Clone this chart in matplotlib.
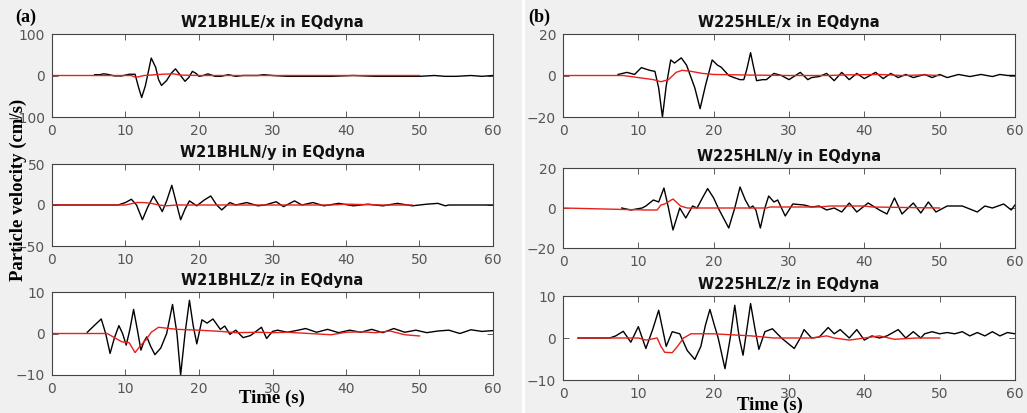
import matplotlib
matplotlib.use('Agg')
import matplotlib.pyplot as plt

# station W21B (column a), black = data, red = EQdyna
a_x_t = [5.8, 6.5, 7.0, 7.5, 8.5, 9.5, 10.5, 11.3, 11.8, 12.2, 12.7, 13.0, 13.5, 14.1, 14.5, 14.9, 15.6, 16.2,
         16.8, 17.4, 18.1, 18.6, 19.1, 19.6, 20.0, 20.6, 21.2, 21.7, 22.2, 23.0, 24.0, 25.0, 26.0, 28.0, 28.8,
         30.0, 32.0, 35.0, 38.0, 41.0, 44.0, 47.0, 50.0, 52.0, 53.5, 55.0, 57.0, 58.5, 60.0]
a_x_v = [2, 2, 4, 3, -1, -1, 3, 3, -30, -53, -25, 0, 42, 20, -10, -24, -12, 5,
         16, 2, -14, -5, 10, 5, -2, 0, 4, 1, -2, -2, 2, -2, 0, 0, 2,
         0, -2, -2, -2, 0, -2, -2, -2, 0, -2, -2, 0, -2, 0]
a_x_syn_t = [0, 10.8, 11.3, 11.8, 12.5, 15, 16.5, 17.5, 20, 30, 40, 50]
a_x_syn_v = [0, 0, -4, -3, 0, 3, 4, 1, 0, 0, 0, 0]

a_y_t = [0, 6, 9, 10, 10.8, 11.5, 12.3, 13.0, 13.8, 14.4, 15.0, 15.6, 16.3, 16.9, 17.5, 18.1, 18.7, 19.7, 20.7,
         21.6, 22.4, 23.1, 24.2, 25.0, 26.5, 28.0, 29.0, 30.5, 31.5, 33.0, 34.0, 35.5, 37.0, 39.0, 41.0, 43.0,
         45.0, 47.0, 49.0, 51.0, 52.5, 53.5, 54.0, 60]
a_y_v = [0, 0, 0, 3, 7, 0, -18, -3, 11, 2, -8, 5, 24, 3, -18, -5, 5, -1, 6,
         11, 0, -6, 3, 0, 3, -1, 0, 4, -2, 5, 0, 3, -1, 2, -1, 1,
         -1, 2, -1, 1, 2, -1, 0, 0]
a_y_syn_t = [0, 10, 11.5, 12.5, 13.5, 14.5, 15.5, 17, 20, 30, 38, 40, 45, 49]
a_y_syn_v = [0, 0, 3, 3, 2, 0, -1, 0, 0, 0, 0, 1, 0, 0]

a_z_t = [4.8, 5.8, 6.7, 7.3, 7.9, 8.5, 9.1, 9.6, 10.1, 10.6, 11.1, 11.6, 12.1, 12.5, 12.9, 13.4, 14.0, 14.8,
         15.6, 16.4, 17.0, 17.5, 18.1, 18.7, 19.2, 19.7, 20.4, 21.1, 21.9, 22.5, 22.9, 23.5, 24.2, 25.0, 26.0,
         27.0, 28.5, 29.2, 30.0, 30.7, 32, 33.5, 34.5, 36, 37.5, 39, 40.5, 42, 43.5, 45, 46.5, 48, 49.5,
         51, 52.5, 54, 55.5, 57, 58.5, 60]
a_z_v = [0.3, 2, 3.5, 0, -4.8, -1, 1.9, 0, -2.8, 1, 5.8, 1, -4, -2, -0.8, -3, -5.1, -3.5,
         0, 7, 0, -10, 0, 8, 2, -2.5, 3.3, 2.5, 3.5, 2, 1, 1.8, -0.2, 0.8, -1,
         -0.5, 1.5, -1.2, 0.5, 0.8, 0.3, 0.8, 1.2, 0.3, 1, 0.2, 0.8, 0.3, 1, 0.2, 1.2, 0.3, 0.8,
         0.2, 0.6, 0.8, 0, 0.9, 0.5, 0.7]
a_z_syn_t = [0, 7.5, 8.5, 9.5, 10.5, 11.3, 12.0, 12.8, 13.5, 14.5, 15.5, 17, 20, 23, 25, 28, 30, 32,
             35, 38, 40, 42, 44, 46, 48, 50]
a_z_syn_v = [0, 0, -1, -2, -2.2, -4.6, -3, -1.5, 0.3, 1.5, 1.3, 1, 0.8, 0.5, 0.2, 0.3, 0.2, 0.3,
             0, -0.3, 0.3, 0.4, 0.2, 0.6, -0.3, -0.6]

# station W225 (column b)
b_x_t = [7.3, 8.5, 9.5, 10.4, 11.5, 12.2, 12.7, 13.2, 13.7, 14.3, 14.8, 15.7, 16.4, 17.5, 18.2, 18.9, 19.8,
         20.5, 21.0, 22.0, 22.7, 23.5, 24.0, 24.4, 24.9, 25.3, 25.7, 26.5, 27.0, 28.0, 29.0, 30.0, 31.5,
         32.5, 33.0, 34.0, 35.0, 36.0, 37.0, 38.0, 39.0, 40.0, 41.5, 42.5, 43.5, 44.5, 45.5, 46.5, 48.0,
         49.0, 50.0, 51.0, 52.5, 54.0, 55.5, 57.0, 58.0, 59.0, 60.0]
b_x_v = [0.5, 1.5, 0.5, 3.8, 2.5, 2, -6, -20, -5, 7.5, 6, 8.5, 5, -6, -16, -5, 7.5,
         5, 4, 0, -1, -2, -2, 3, 11, 4, -2.5, -2, -2, 1, 0, -2, 1.5,
         -2, -1, -0.5, 1, -2.5, 1.5, -2, 1, -1.5, 1.5, -1.5, 1, -1, 0.5, -1, 0.5,
         -1, 0.5, -1, 0.5, -0.5, 0.5, -0.5, 0.5, 0, 0]
b_x_syn_t = [0, 8, 10, 12, 13, 14, 15, 15.8, 17, 18.5, 20, 25, 30, 35, 38, 42, 45, 48, 50]
b_x_syn_v = [0, 0, -1, -2, -3, -2, 1.5, 2.5, 2, 1, 0.5, 0.2, 0, 0, 0.3, 0.5, 0, 0.3, 0]

b_y_t = [7.8, 9.0, 10.5, 11.0, 12.0, 12.7, 13.4, 14.0, 14.6, 15.5, 16.3, 17.2, 17.8, 18.5, 19.2, 20.0, 20.6,
         21.3, 22.0, 22.8, 23.5, 24.2, 24.8, 25.2, 25.6, 26.2, 26.8, 27.3, 28.0, 28.5, 29.5, 30.5, 32, 33,
         34, 35, 36, 37, 38, 39, 40.5, 42, 43, 44, 45, 46.5, 47.5, 48.5, 49.5, 51, 53, 55, 56, 57, 58.5,
         59.5, 60]
b_y_v = [0, -1, 0, 1, 4, 3, 10, 0, -11, 0, -5, 1, 0, 5, 9.7, 5, 0,
         -5, -10, 0, 10.5, 4, 0, 1, -1, -10, 0, 6, 3, 4, -4, 2, 1.5, 0.5,
         1, -1, 0, -2, 2.5, -2, 2.5, -1, -3, 5, -3, 2.5, -2.5, 3, -2, 1, 1, -2, 1, 0, 2,
         -1, 1.5]
b_y_syn_t = [0, 11, 12.5, 13.0, 13.5, 14.6, 15.6, 16.5, 27, 27.5, 34, 35.5, 40, 41, 50]
b_y_syn_v = [0, -1, -1, 1.5, 2, 4.5, 1, 0, 0, 0.5, 0.5, 1, 1, 0.5, 0]

b_z_t = [2, 6.2, 7, 8, 9, 10, 11, 11.9, 12.7, 13.7, 14.5, 15.5, 16.5, 17.5, 18.3, 18.9, 19.5, 20.1, 20.6,
         21.5, 22.2, 22.8, 23.4, 23.9, 24.4, 24.9, 25.5, 26, 26.8, 27.8, 29, 30.7, 31.5, 32, 33, 34, 35.2,
         36, 36.8, 38, 39, 40, 41, 42, 43, 44.5, 45.5, 46.5, 47.5, 48, 49, 50, 51, 52, 53, 54, 55, 56, 57,
         58, 59, 60]
b_z_v = [0, 0, 0.5, 1.6, -1, 2.7, -2.5, 2, 6.6, -2, 1.5, 1, -3, -5.1, -2, 3, 6.8, 3, 0,
         -7.3, 0, 7.8, 0, -4.1, 2, 8.2, 2, -2.7, 1.5, 2.2, 0, -2.5, 0, 2, 0, 0.2, 2.5,
         1, 2, 0, 2, -0.5, 0.5, 0, 0.5, 2, 0, 1.5, 0, 1, 1.5, 1, 1.3, 1, 1.5, 0.5, 1.3, 0.5, 1.5,
         0.5, 1.3, 1]
b_z_syn_t = [2, 10, 11, 12.5, 13, 13.5, 14.5, 15.2, 16, 17, 20, 25, 28, 33, 35, 36, 38, 40, 42, 44, 47, 50]
b_z_syn_v = [0, 0, -0.5, 0, -2, -3.4, -3.5, -2, 0, 1, 1, 0.5, 0, 0, 0.5, 0, -0.5, 0, 0.5, -0.3, 0, 0]

titles = ['W21BHLE/x in EQdyna', 'W21BHLN/y in EQdyna', 'W21BHLZ/z in EQdyna',
          'W225HLE/x in EQdyna', 'W225HLN/y in EQdyna', 'W225HLZ/z in EQdyna']
ylims = [100, 50, 10, 20, 20, 10]

W, H = 1027, 413
fig = plt.figure(figsize=(W / 100, H / 100), dpi=100, facecolor='#f0f0f0')

# axes boxes in pixels: left, top, right, bottom
boxes = [(52, 34, 493, 117), (52, 164, 493, 246), (52, 292, 493, 375),
         (563, 34, 1015, 117), (563, 168, 1015, 248), (563, 296, 1015, 380)]
obs = [(a_x_t, a_x_v), (a_y_t, a_y_v), (a_z_t, a_z_v), (b_x_t, b_x_v), (b_y_t, b_y_v), (b_z_t, b_z_v)]
syn = [(a_x_syn_t, a_x_syn_v), (a_y_syn_t, a_y_syn_v), (a_z_syn_t, a_z_syn_v),
       (b_x_syn_t, b_x_syn_v), (b_y_syn_t, b_y_syn_v), (b_z_syn_t, b_z_syn_v)]

for i in range(6):
    l, t, r, b = boxes[i]
    ax = fig.add_axes([l / W, 1 - b / H, (r - l) / W, (b - t) / H])
    ax.plot(obs[i][0], obs[i][1], color='black', lw=1.0)
    ax.plot(syn[i][0], syn[i][1], color='#e8201c', lw=1.0)
    ax.set_xlim(0, 60)
    ax.set_ylim(-ylims[i], ylims[i])
    ax.set_xticks(range(0, 61, 10))
    ax.set_yticks([-ylims[i], 0, ylims[i]])
    ax.tick_params(direction='in', top=True, right=True, length=4, width=0.6,
                   labelsize=10, labelcolor='#555555', color='#444444', pad=5)
    for s in ax.spines.values():
        s.set_color('#444444')
        s.set_linewidth(0.8)
    ax.set_title(titles[i], fontsize=10.5, fontweight='bold', color='#111111', pad=5)

# white divider between the two columns
fig.add_artist(plt.Line2D([523 / W, 523 / W], [0, 1], color='white', lw=2))

serif = 'Liberation Serif'
fig.text(15 / W, 1 - 17 / H, '(a)', family=serif, fontweight='bold', fontsize=13, va='center')
fig.text(528 / W, 1 - 17 / H, '(b)', family=serif, fontweight='bold', fontsize=13, va='center')
fig.text(18 / W, 1 - 190 / H, 'Particle velocity (cm/s)', family=serif, fontweight='bold', fontsize=13.5,
         rotation=90, ha='center', va='center')
fig.text(272 / W, 1 - 398 / H, 'Time (s)', family=serif, fontweight='bold', fontsize=13.5, ha='center', va='center')
fig.text(770 / W, 1 - 405 / H, 'Time (s)', family=serif, fontweight='bold', fontsize=13.5, ha='center', va='center')

fig.savefig('out.png', dpi=100, facecolor=fig.get_facecolor())
